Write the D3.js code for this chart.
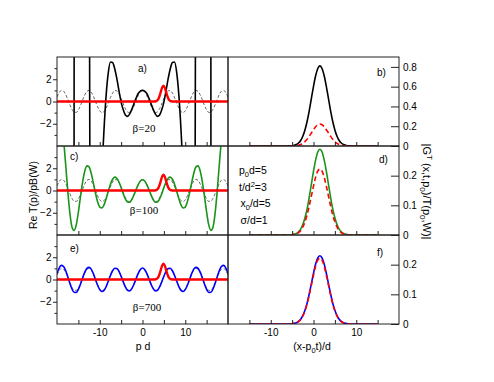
<!DOCTYPE html>
<html lang="en">
  <head>
    <meta charset="UTF-8" />
    <title>Re T(p) and |G^T| panels</title>
    <style>
      body { margin: 0; background: #fff; }
      text { font-family: "Liberation Sans", Arial, sans-serif; fill: #000; }
      .serif { font-family: "Liberation Serif", "Times New Roman", serif; }
    </style>
  </head>
  <body>
    <svg id="svg" width="494" height="382"></svg>

    <script src="https://d3js.org/d3.v7.min.js"></script>
    <script>
      // ---- data ----
      // left column: p d on [-20, 20]
      const pGrid = [-20,-19.5,-19,-18.5,-18,-17.5,-17,-16.5,-16,-15.5,-15,-14.5,-14,-13.5,-13,-12.5,-12,-11.5,-11,-10.5,
        -10,-9.5,-9,-8.5,-8,-7.5,-7,-6.5,-6,-5.5,-5,-4.5,-4,-3.5,-3,-2.5,-2,-1.5,-1,-0.5,0,
        0.5,1,1.5,2,2.5,3,3.5,4,4.5,5,5.5,6,6.5,7,7.5,8,8.5,9,9.5,10,
        10.5,11,11.5,12,12.5,13,13.5,14,14.5,15,15.5,16,16.5,17,17.5,18,18.5,19,19.5,20];

      // dashed reference curve (same in a, c, e)
      const dashedRe = [0.408,0.797,0.989,0.939,0.660,0.219,-0.275,-0.703,-0.958,-0.979,-0.760,-0.355,0.137,0.595,0.907,0.998,0.844,0.483,0.004,-0.476,
        -0.839,-0.997,-0.911,-0.602,-0.146,0.347,0.754,0.977,0.960,0.709,0.284,-0.211,-0.654,-0.936,-0.990,-0.801,-0.416,0.071,0.540,0.878,1.0,
        0.878,0.540,0.071,-0.416,-0.801,-0.990,-0.936,-0.654,-0.211,0.284,0.709,0.960,0.977,0.754,0.347,-0.146,-0.602,-0.911,-0.997,-0.839,
        -0.476,0.004,0.483,0.844,0.998,0.907,0.595,0.137,-0.355,-0.760,-0.979,-0.958,-0.703,-0.275,0.219,0.660,0.939,0.989,0.797,0.408];

      // c) beta = 100
      const greenRe = [4.298,5.948,5.982,4.668,2.468,0.052,-1.995,-3.275,-3.582,-3.095,-1.953,-0.536,0.780,1.754,2.213,2.120,1.554,0.691,-0.231,-1.010,
        -1.485,-1.568,-1.295,-0.736,-0.068,0.558,1.008,1.198,1.105,0.766,0.257,-0.295,-0.761,-1.032,-1.053,-0.810,-0.394,0.087,0.534,0.849,0.96,
        0.849,0.534,0.087,-0.394,-0.810,-1.053,-1.032,-0.761,-0.295,0.257,0.766,1.105,1.198,1.008,0.558,-0.068,-0.736,-1.295,-1.568,-1.485,
        -1.010,-0.231,0.691,1.554,2.120,2.213,1.754,0.780,-0.536,-1.953,-3.095,-3.582,-3.275,-1.995,0.052,2.468,4.668,5.982,5.948,4.298];

      // e) beta = 700
      const blueRe = [0.530,1.028,1.266,1.188,0.825,0.270,-0.336,-0.851,-1.150,-1.165,-0.897,-0.408,0.155,0.666,1.007,1.098,0.928,0.529,0.004,-0.519,
        -0.910,-1.077,-0.984,-0.638,-0.153,0.363,0.784,1.011,0.989,0.730,0.293,-0.217,-0.674,-0.964,-1.020,-0.825,-0.428,0.073,0.556,0.904,1.03,
        0.904,0.556,0.073,-0.428,-0.825,-1.020,-0.964,-0.674,-0.217,0.293,0.730,0.989,1.011,0.784,0.363,-0.153,-0.638,-0.984,-1.077,-0.910,
        -0.519,0.004,0.529,0.928,1.098,1.007,0.666,0.155,-0.408,-0.897,-1.165,-1.150,-0.851,-0.336,0.270,0.825,1.188,1.266,1.028,0.530];

      // a) beta = 20, runs far off scale beyond |p| ~ 9
      const blackP = [-20,-18,-16.5,-16,-15.5,-14,-12.7,-12.35,-12,-11,-10,-9.5,-9.2,-9,-8.5,-8,-7.5,-7,-6.5,-6,-5.5,-5,-4.5,-4,-3.5,-3,-2.5,-2,-1.5,-1,-0.5,0,
        0.5,1,1.5,2,2.5,3,3.5,4,4.5,5,5.5,6,6.5,7,7.5,8,8.5,9,9.2,9.5,10,11,12,12.35,12.7,14,15.5,16,16.5,18,20];
      const blackRe = [-1000,-1500,-300,0,200,300,60,0,-40,-60,-20,-7,-4,-2.5,0.6,2.6,3.55,3.5,2.95,2.05,0.95,-0.05,-0.75,-1.22,-1.34,-1.12,-0.7,-0.2,0.3,0.72,0.93,1.0,
        0.93,0.72,0.3,-0.2,-0.7,-1.12,-1.34,-1.22,-0.75,-0.05,0.95,2.05,2.95,3.5,3.55,2.6,0.6,-2.5,-4,-7,-20,-60,-40,0,60,300,200,0,-300,-1500,-1000];

      // red bump (same in a, c, e)
      const redP = [-20,2.5,2.8,3.1,3.4,3.7,4.0,4.3,4.6,4.9,5.2,5.5,5.8,6.1,6.4,6.7,7.0,7.3,20];
      const redRe = [0,0,0.005,0.021,0.077,0.22,0.499,0.895,1.27,1.43,1.27,0.895,0.499,0.22,0.077,0.021,0.005,0,0];

      // right column: (x - p0 t)/d
      const xr = [-15,-6.5,-6,-5.5,-5,-4.5,-4,-3.5,-3,-2.5,-2,-1.5,-1,-0.5,0,0.5,1,1.5,2,2.5,3,3.5,4,4.5,5,5.5,6,6.5,7,7.5,8,8.5,9,9.5,15];
      const blackG = [0,0,0,0.001,0.003,0.007,0.015,0.030,0.056,0.099,0.162,0.248,0.356,0.479,0.603,0.710,0.784,0.810,
        0.784,0.710,0.603,0.479,0.356,0.248,0.162,0.099,0.056,0.030,0.015,0.007,0.003,0.001,0,0,0];
      const redG = [0,0,0,0,0.001,0.002,0.004,0.008,0.015,0.027,0.044,0.068,0.098,0.131,0.165,0.195,0.215,0.222,
        0.215,0.195,0.165,0.131,0.098,0.068,0.044,0.027,0.015,0.008,0.004,0.002,0.001,0,0,0,0];
      const greenG = [0,0,0,0,0.001,0.003,0.005,0.011,0.020,0.035,0.058,0.088,0.127,0.171,0.215,0.253,0.280,0.289,
        0.280,0.253,0.215,0.171,0.127,0.088,0.058,0.035,0.020,0.011,0.005,0.003,0.001,0,0,0,0];
      const blueG = [0,0,0,0,0.001,0.002,0.004,0.009,0.016,0.028,0.046,0.070,0.101,0.136,0.171,0.202,0.223,0.230,
        0.223,0.202,0.171,0.136,0.101,0.070,0.046,0.028,0.016,0.009,0.004,0.002,0.001,0,0,0,0];

      const panelTags = ["a)", "b)", "c)", "d)", "e)", "f)"];
      const betaLabels = ["\u03b2=20", "\u03b2=100", "\u03b2=700"];
      const xTicks = [-15, -10, -5, 0, 5, 10, 15];
      const xLabelTicks = [-10, 0, 10];

      // ---- layout ----
      const svg = d3.select("#svg");
      svg.append("rect").attr("width", 494).attr("height", 382).attr("fill", "#fff");

      const left = 57, mid = 228, right = 399;
      const rowTops = [57, 146, 235];
      const rowH = 89;

      const xL = d3.scaleLinear().domain([-20, 20]).range([left, mid]);
      const xR = d3.scaleLinear().domain([-20, 20]).range([mid, right]);
      const yL = rowTops.map((t) => d3.scaleLinear().domain([-4, 4]).range([t + rowH, t]));
      const yR = [
        d3.scaleLinear().domain([0, 0.9]).range([rowTops[0] + rowH, rowTops[0]]),
        d3.scaleLinear().domain([0, 0.3]).range([rowTops[1] + rowH, rowTops[1]]),
        d3.scaleLinear().domain([0, 0.3]).range([rowTops[2] + rowH, rowTops[2]]),
      ];
      const yRTicks = [[0, 0.2, 0.4, 0.6, 0.8], [0, 0.1, 0.2], [0, 0.1, 0.2]];

      const defs = svg.append("defs");
      rowTops.forEach((t, i) => {
        defs.append("clipPath").attr("id", "clipL" + i)
          .append("rect").attr("x", left).attr("y", t).attr("width", mid - left).attr("height", rowH);
        defs.append("clipPath").attr("id", "clipR" + i)
          .append("rect").attr("x", mid).attr("y", t).attr("width", right - mid).attr("height", rowH);
      });

      const drawLine = (g, xs, ys, xScale, yScale, color, width, dash) => {
        const pts = xs.map((x, k) => [x, ys[k]]);
        g.append("path")
          .datum(pts)
          .attr("fill", "none")
          .attr("stroke", color)
          .attr("stroke-width", width)
          .attr("stroke-dasharray", dash || null)
          .attr("d", d3.line().x((d) => xScale(d[0])).y((d) => yScale(d[1])).curve(d3.curveMonotoneX));
      };

      const leftCurves = [
        { p: blackP, v: blackRe, color: "#000", w: 1.6 },
        { p: pGrid, v: greenRe, color: "#199419", w: 1.6 },
        { p: pGrid, v: blueRe, color: "#0000ff", w: 1.6 },
      ];
      const rightCurves = [
        { v: blackG, color: "#000" },
        { v: greenG, color: "#199419" },
        { v: blueG, color: "#0000ff" },
      ];

      rowTops.forEach((t, i) => {
        // left panel curves
        const gl = svg.append("g").attr("clip-path", "url(#clipL" + i + ")");
        drawLine(gl, pGrid, dashedRe, xL, yL[i], "#555", 0.9, "3,2");
        drawLine(gl, leftCurves[i].p, leftCurves[i].v, xL, yL[i], leftCurves[i].color, leftCurves[i].w);
        drawLine(gl, redP, redRe, xL, yL[i], "#ff0000", 2.4);

        // right panel curves
        const gr = svg.append("g").attr("clip-path", "url(#clipR" + i + ")");
        drawLine(gr, xr, rightCurves[i].v, xR, yR[i], rightCurves[i].color, 1.6);
        drawLine(gr, xr, redG, xR, yR[i], "#ff0000", 1.6, "5,3");

        // left y axis: major and minor ticks
        svg.append("g")
          .attr("transform", `translate(${left},0)`)
          .call(d3.axisLeft(yL[i]).tickValues([-3, -1, 1, 3]).tickSize(2.5).tickFormat(""))
          .call((g) => g.select(".domain").remove());
        svg.append("g")
          .attr("transform", `translate(${left},0)`)
          .call(d3.axisLeft(yL[i]).tickValues([-2, 0, 2]).tickSize(4).tickPadding(1.5))
          .call((g) => g.select(".domain").remove());

        // right y axis, ticks pointing in
        svg.append("g")
          .attr("transform", `translate(${right},0)`)
          .call(d3.axisRight(yR[i]).tickValues(yRTicks[i]).tickSize(-8).tickPadding(4)
            .tickFormat((d) => (d === 0 ? "0" : d3.format(".1f")(d))))
          .call((g) => g.select(".domain").remove());

        // bottom ticks, inward
        const bottom = t + rowH;
        const last = i === rowTops.length - 1;
        svg.append("g")
          .attr("transform", `translate(0,${bottom})`)
          .call(d3.axisBottom(xL).tickValues(xTicks).tickSize(-4).tickPadding(5)
            .tickFormat((d) => (last && xLabelTicks.includes(d) ? d : "")))
          .call((g) => g.select(".domain").remove());
        svg.append("g")
          .attr("transform", `translate(0,${bottom})`)
          .call(d3.axisBottom(xR).tickValues(xTicks).tickSize(-4).tickPadding(5)
            .tickFormat((d) => (last && xLabelTicks.includes(d) ? d : "")))
          .call((g) => g.select(".domain").remove());

        // frames
        svg.append("rect").attr("x", left).attr("y", t).attr("width", mid - left).attr("height", rowH)
          .attr("fill", "none").attr("stroke", "#222").attr("stroke-width", 1);
        svg.append("rect").attr("x", mid).attr("y", t).attr("width", right - mid).attr("height", rowH)
          .attr("fill", "none").attr("stroke", "#222").attr("stroke-width", 1);
      });

      svg.selectAll(".tick line").attr("stroke", "#222");
      svg.selectAll(".tick text").attr("font-size", 10).attr("fill", "#000")
        .attr("font-family", '"Liberation Sans", Arial, sans-serif');

      // panel tags
      const tagPos = [[138, 72], [377, 76], [70, 160], [379, 163], [70, 252], [377, 256]];
      panelTags.forEach((s, k) => {
        svg.append("text").attr("x", tagPos[k][0]).attr("y", tagPos[k][1]).attr("font-size", 10).text(s);
      });

      // beta labels
      const betaPos = [[144, 131.5], [144, 214], [147, 311]];
      betaLabels.forEach((s, k) => {
        svg.append("text").attr("class", "serif").attr("x", betaPos[k][0]).attr("y", betaPos[k][1])
          .attr("text-anchor", "middle").attr("font-size", 11).text(s);
      });

      // parameters in panel d
      const par = svg.append("g").attr("font-size", 10.5);
      const t1 = par.append("text").attr("x", 239).attr("y", 174);
      t1.append("tspan").text("p");
      t1.append("tspan").attr("font-size", 7.5).attr("dy", 3).text("0");
      t1.append("tspan").attr("dy", -3).text("d=5");
      const t2 = par.append("text").attr("x", 239).attr("y", 190.5);
      t2.append("tspan").text("t/d");
      t2.append("tspan").attr("font-size", 7.5).attr("dy", -4).text("2");
      t2.append("tspan").attr("dy", 4).text("=3");
      const t3 = par.append("text").attr("x", 240.5).attr("y", 207);
      t3.append("tspan").text("x");
      t3.append("tspan").attr("font-size", 7.5).attr("dy", 3).text("0");
      t3.append("tspan").attr("dy", -3).text("/d=5");
      par.append("text").attr("x", 240.5).attr("y", 224).text("\u03c3/d=1");

      // axis titles
      svg.append("text").attr("x", 143).attr("y", 350).attr("text-anchor", "middle").attr("font-size", 10.5).text("p d");
      const xt = svg.append("text").attr("x", 312).attr("y", 350).attr("text-anchor", "middle").attr("font-size", 10.5);
      xt.append("tspan").text("(x-p");
      xt.append("tspan").attr("font-size", 7.5).attr("dy", 3).text("0");
      xt.append("tspan").attr("dy", -3).text("t)/d");

      svg.append("text").attr("transform", "translate(37,195) rotate(-90)")
        .attr("text-anchor", "middle").attr("font-size", 10.5).text("Re T(p)/pB(W)");

      const yt = svg.append("text").attr("transform", "translate(423,191.5) rotate(90)")
        .attr("text-anchor", "middle").attr("font-size", 11);
      yt.append("tspan").text("|G");
      yt.append("tspan").attr("font-size", 8).attr("dy", -4).text("T");
      yt.append("tspan").attr("dy", 4).text(" (x,t,p");
      yt.append("tspan").attr("font-size", 8).attr("dy", 3).text("0");
      yt.append("tspan").attr("dy", -3).text(")/T(p");
      yt.append("tspan").attr("font-size", 8).attr("dy", 3).text("0");
      yt.append("tspan").attr("dy", -3).text(",W)|");
    </script>
  </body>
</html>
